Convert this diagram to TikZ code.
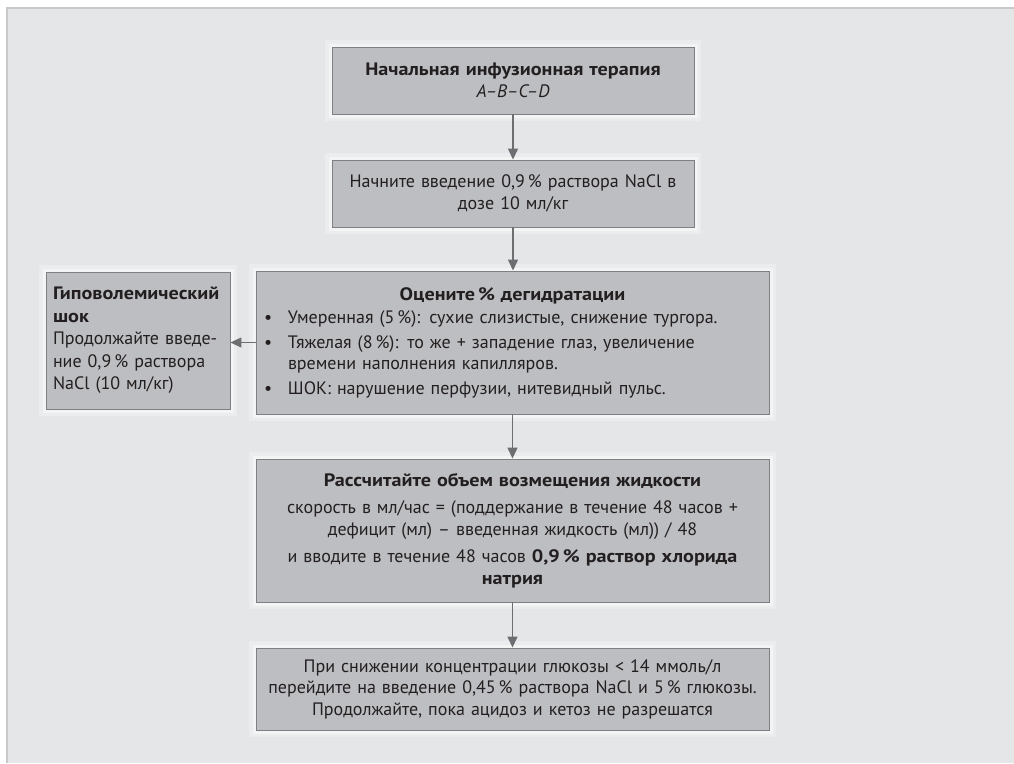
\documentclass[tikz,border=0pt]{standalone}
\usepackage{fontspec}
\setmainfont{PT Sans}[BoldFeatures={FakeStretch=1.12}]
\usepackage{xcolor}
\usepackage{tikz}
\usetikzlibrary{arrows.meta,positioning,calc}

\definecolor{panelfill}{HTML}{E5E6E8}
\definecolor{panelline}{HTML}{C8C9CB}
\definecolor{boxfill}{HTML}{BDBEC1}
\definecolor{boxline}{HTML}{7F8083}
\definecolor{arrowgray}{HTML}{6D6E71}
\definecolor{inkblack}{HTML}{231F20}

\newcommand{\bul}{\makebox[24pt][l]{\textbullet}}

\begin{document}
\begin{tikzpicture}[x=1pt, y=-1pt, thick,
  box/.style={draw=boxline, fill=boxfill, line width=0.9pt, text=inkblack,
    align=center, inner xsep=8pt, inner ysep=0pt,
    font=\fontsize{18}{21.5}\selectfont,
    preaction={draw=white, line width=14pt, opacity=0.25},
    preaction={draw=white, line width=7pt, opacity=0.45}},
  flow/.style={draw=arrowgray, line width=1.3pt, -{Triangle[width=10pt,length=11pt]}}]
\useasboundingbox (0,0) rectangle (1014,763);
\fill[panelfill] (6,7) rectangle (1014,763);
\draw[panelline, line width=2pt] (7,763) -- (7,8) -- (1014,8);

\node[box, minimum width=362pt, minimum height=67pt, text width=346pt] (init) at (513,80.5)
  {\textbf{Начальная инфузионная терапия}\\ \textit{A–B–C–D}};
\node[box, minimum width=362pt, minimum height=67pt, text width=346pt] (start) at (513,193.5)
  {Начните введение 0,9\,\% раствора NaCl в\\ дозе 10 мл/кг};
\node[box, minimum width=513pt, minimum height=143pt, text width=497pt, align=left, inner xsep=8pt] (dehyd) at (512.5,342.5)
  {\makebox[497pt][c]{\textbf{Оцените\,\% дегидратации}}\\[2pt]
   \bul Умеренная (5\,\%): сухие слизистые, снижение тургора.\\[3pt]
   \bul Тяжелая (8\,\%): то же + западение глаз, увеличение\\
   \hspace*{24pt}времени наполнения капилляров.\\[3pt]
   \bul ШОК: нарушение перфузии, нитевидный пульс.};
\node[box, minimum width=184pt, minimum height=137pt, text width=170pt, align=left, inner xsep=7pt,
  font=\fontsize{18}{22.5}\selectfont] (shock) at (138,340.5)
  {\textbf{Гиповолемический}\\ \textbf{шок}\\
   Продолжайте введе-\\ние 0,9\,\% раствора\\ NaCl (10 мл/кг)};
\node[box, minimum width=513pt, minimum height=143pt, text width=497pt] (fluid) at (512.5,530.5)
  {\textbf{Рассчитайте объем возмещения жидкости}\\[6pt]
   скорость в мл/час = (поддержание в течение 48 часов +\\
   дефицит (мл) – введенная жидкость (мл)) / 48\\[6pt]
   и вводите в течение 48 часов \textbf{0,9\,\% раствор хлорида}\\ \textbf{натрия}};
\node[box, minimum width=513pt, minimum height=82pt, text width=497pt] (gluc) at (512.5,689)
  {При снижении концентрации глюкозы < 14 ммоль/л\\
   перейдите на введение 0,45\,\% раствора NaCl и 5\,\% глюкозы.\\
   Продолжайте, пока ацидоз и кетоз не разрешатся};

\draw[flow] (init) -- (start);
\draw[flow] (start) -- (start |- dehyd.north);
\draw[flow] (dehyd) -- (fluid);
\draw[flow] (fluid) -- (gluc);
\draw[flow] (dehyd.west) -- (dehyd.west -| shock.east);
\end{tikzpicture}
\end{document}
